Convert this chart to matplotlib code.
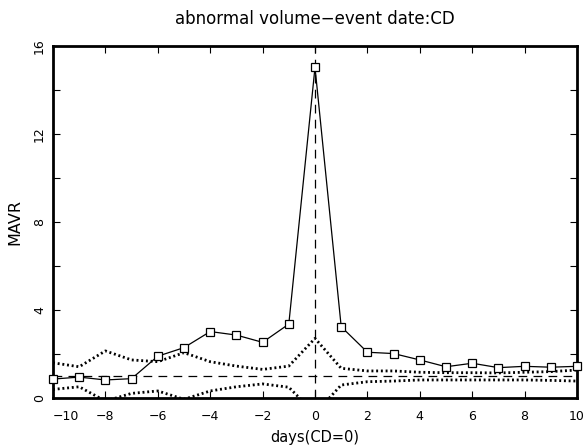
import matplotlib
matplotlib.use("Agg")
import matplotlib.pyplot as plt
import numpy as np

days = list(range(-10, 11))
mavr = [0.86, 0.95, 0.82, 0.88, 1.90, 2.29, 3.02, 2.86, 2.53, 3.36, 15.03,
        3.24, 2.08, 2.02, 1.73, 1.42, 1.58, 1.38, 1.44, 1.40, 1.44]
upper = [1.60, 1.42, 2.14, 1.73, 1.65, 2.06, 1.65, 1.45, 1.30, 1.45, 2.71,
         1.35, 1.23, 1.23, 1.17, 1.15, 1.15, 1.14, 1.17, 1.20, 1.27]
lower = [0.39, 0.51, -0.14, 0.21, 0.32, -0.06, 0.32, 0.51, 0.64, 0.49, -0.71,
         0.59, 0.74, 0.77, 0.82, 0.82, 0.82, 0.82, 0.82, 0.80, 0.77]
baseline = 1.0
title = "abnormal volume\u2212event date:CD"
xlabel = "days(CD=0)"
ylabel = "MAVR"

plt.rcParams['font.family'] = ['DejaVu Sans']

fig = plt.figure(figsize=(5.85, 4.47), dpi=100)
ax = fig.add_axes([53/585, 49/447, 524/585, 352/447])

ax.plot(days, upper, color='black', linestyle=(0, (0.7, 1.0)), linewidth=2.0)
ax.plot(days, lower, color='black', linestyle=(0, (0.7, 1.0)), linewidth=2.0)
ax.axhline(baseline, color='black', linestyle=(0, (7, 5)), linewidth=0.9)
ax.axvline(0, color='black', linestyle=(0, (7, 5)), linewidth=0.9)
ax.plot(days, mavr, color='black', linewidth=0.9, marker='s', markersize=5.5,
        markerfacecolor='white', markeredgecolor='black', markeredgewidth=0.9,
        clip_on=False, zorder=5)

ax.set_xlim(-10, 10)
ax.set_ylim(0, 16)
ax.set_xticks(range(-10, 11, 2))
ax.set_yticks(range(0, 17, 2))
ax.set_yticklabels([str(v) if v % 4 == 0 else '' for v in range(0, 17, 2)],
                   rotation=90, va='center')
ax.set_xticklabels(["\u2212" + str(-v) if v < 0 else str(v) for v in range(-10, 11, 2)])
ax.get_xticklabels()[0].set_horizontalalignment('left')
ax.tick_params(direction='in', length=5, width=0.8, top=True, right=True,
               labelsize=9)
ax.tick_params(axis='x', pad=8.5)
ax.tick_params(axis='y', pad=5)
for s in ax.spines.values():
    s.set_linewidth(2.0)

ax.set_xlabel(xlabel, fontsize=10.5, labelpad=5)
ax.set_ylabel(ylabel, fontsize=11.5, labelpad=8)
ax.set_title(title, fontsize=12, pad=16)

fig.savefig("out.png", dpi=100)
